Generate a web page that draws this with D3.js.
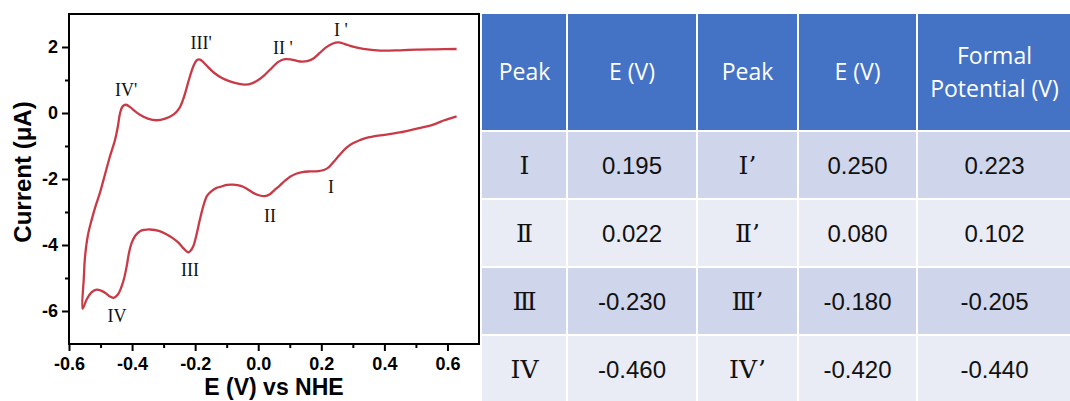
<!DOCTYPE html>
<html>
<head>
<meta charset="utf-8">
<script src="https://cdn.jsdelivr.net/npm/d3@7"></script>
<style>
  html, body { margin: 0; padding: 0; background: #fff; }
  svg { display: block; }
</style>
</head>
<body>
<svg id="chart" width="1070" height="401"></svg>
<script>
// ---- Cyclic voltammogram: cathodic sweep (0.63 V -> -0.56 V) ----
const cathodicE = [0.629, 0.590, 0.555, 0.500, 0.449, 0.400, 0.365, 0.340, 0.323, 0.300, 0.280, 0.259,
  0.240, 0.225, 0.210, 0.190, 0.164, 0.140, 0.120, 0.101, 0.085, 0.069, 0.050, 0.037, 0.020, 0.005,
  -0.016, -0.035, -0.055, -0.079, -0.100, -0.121, -0.132, -0.150, -0.163, -0.175, -0.185, -0.196,
  -0.206, -0.215, -0.222, -0.235, -0.253, -0.270, -0.290, -0.315, -0.343, -0.360, -0.375, -0.390,
  -0.401, -0.410, -0.417, -0.425, -0.433, -0.445, -0.459, -0.472, -0.490, -0.512, -0.528, -0.544, -0.557];
const cathodicI = [-0.10, -0.22, -0.35, -0.48, -0.59, -0.66, -0.71, -0.76, -0.82, -0.92, -1.05, -1.26,
  -1.47, -1.63, -1.72, -1.76, -1.77, -1.79, -1.84, -1.93, -2.05, -2.19, -2.35, -2.46, -2.52, -2.50,
  -2.42, -2.30, -2.21, -2.17, -2.18, -2.24, -2.27, -2.38, -2.52, -2.85, -3.23, -3.70,
  -4.04, -4.18, -4.22, -4.12, -3.93, -3.80, -3.68, -3.57, -3.53, -3.54, -3.58, -3.72,
  -3.93, -4.25, -4.64, -5.00, -5.25, -5.50, -5.60, -5.55, -5.42, -5.35, -5.43, -5.65, -5.93];

// ---- Anodic sweep (-0.56 V -> 0.63 V) ----
const anodicE = [-0.557, -0.553, -0.549, -0.540, -0.528, -0.515, -0.502, -0.487, -0.470, -0.454,
  -0.445, -0.438, -0.430, -0.419, -0.405, -0.390, -0.375, -0.350, -0.322, -0.295, -0.269, -0.250,
  -0.235, -0.220, -0.206, -0.195, -0.185, -0.175, -0.163, -0.140, -0.115, -0.090, -0.060, -0.042,
  -0.020, 0.000, 0.020, 0.037, 0.064, 0.085, 0.105, 0.132, 0.155, 0.175, 0.195, 0.215, 0.235,
  0.254, 0.275, 0.300, 0.333, 0.386, 0.450, 0.502, 0.560, 0.629];
const anodicI = [-5.93, -5.00, -4.34, -3.70, -3.23, -2.80, -2.42, -1.90, -1.31, -0.81,
  -0.40, 0.00, 0.20, 0.25, 0.17, 0.05, -0.05, -0.17, -0.22, -0.17, -0.05, 0.15,
  0.50, 1.00, 1.41, 1.60, 1.62, 1.55, 1.43, 1.22, 1.06, 0.96, 0.88, 0.86,
  0.90, 1.00, 1.15, 1.31, 1.55, 1.63, 1.62, 1.56, 1.57, 1.65, 1.82, 1.99, 2.10,
  2.14, 2.09, 2.01, 1.94, 1.89, 1.90, 1.92, 1.93, 1.94];

// ---- Peak annotations (text anchored at potential / current) ----
const peakNames = ["I '", "II '", "III'", "IV'", "I", "II", "III", "IV"];
const peakLabelE = [0.262, 0.078, -0.181, -0.419, 0.231, 0.037, -0.216, -0.448];
const peakLabelI = [2.34, 1.79, 1.95, 0.52, -2.41, -3.29, -4.95, -6.34];

// ---- Axis ticks ----
const xTicks = [-0.6, -0.4, -0.2, 0.0, 0.2, 0.4, 0.6];
const xMinorTicks = [-0.5, -0.3, -0.1, 0.1, 0.3, 0.5];
const yTicks = [-6, -4, -2, 0, 2];
const yMinorTicks = [-5, -3, -1, 1];

// ---- Peak table ----
const tableHeader = ["Peak", "E (V)", "Peak", "E (V)", "Formal|Potential (V)"];
const redPeaks = ["Ⅰ", "Ⅱ", "Ⅲ", "IV"];
const redPotential = [0.195, 0.022, -0.230, -0.460];
const oxPeaks = ["Ⅰ’", "Ⅱ’", "Ⅲ’", "IV’"];
const oxPotential = [0.250, 0.080, -0.180, -0.420];
const formalPotential = [0.223, 0.102, -0.205, -0.440];

const svg = d3.select("#chart");
const lineColor = "#c93a47";

// ---------- Voltammogram ----------
const plot = { left: 69, right: 479, top: 14, bottom: 344 };
const x = d3.scaleLinear().domain([-0.6, 0.7]).range([plot.left, plot.right]);
const y = d3.scaleLinear().domain([-7, 3]).range([plot.bottom, plot.top]);

const loop = cathodicE.map((e, i) => [e, cathodicI[i]])
  .concat(anodicE.slice(1).map((e, i) => [e, anodicI[i + 1]]));

const line = d3.line()
  .x(d => x(d[0]))
  .y(d => y(d[1]))
  .curve(d3.curveCatmullRom.alpha(0.5));

svg.append("path")
  .datum(loop)
  .attr("fill", "none")
  .attr("stroke", lineColor)
  .attr("stroke-width", 2.3)
  .attr("stroke-linejoin", "round")
  .attr("d", line);

// Frame
svg.append("rect")
  .attr("x", plot.left).attr("y", plot.top)
  .attr("width", plot.right - plot.left).attr("height", plot.bottom - plot.top)
  .attr("fill", "none").attr("stroke", "#000").attr("stroke-width", 2);

const axisFont = "'Liberation Sans', Arial, sans-serif";

const xAxis = svg.append("g").attr("transform", `translate(0,${plot.bottom})`)
  .call(d3.axisBottom(x).tickValues(xTicks).tickSize(7).tickPadding(6)
    .tickFormat(d => d.toFixed(1)));
const xMinor = svg.append("g").attr("transform", `translate(0,${plot.bottom})`)
  .call(d3.axisBottom(x).tickValues(xMinorTicks).tickSize(4).tickFormat(""));
const yAxis = svg.append("g").attr("transform", `translate(${plot.left},0)`)
  .call(d3.axisLeft(y).tickValues(yTicks).tickSize(7).tickPadding(4)
    .tickFormat(d => String(d)));
const yMinor = svg.append("g").attr("transform", `translate(${plot.left},0)`)
  .call(d3.axisLeft(y).tickValues(yMinorTicks).tickSize(4).tickFormat(""));

[xAxis, xMinor, yAxis, yMinor].forEach(g => {
  g.select(".domain").remove();
  g.selectAll(".tick line").attr("stroke", "#000").attr("stroke-width", 2);
  g.selectAll(".tick text")
    .attr("fill", "#000")
    .style("font-family", axisFont)
    .style("font-weight", "bold")
    .style("font-size", "18px");
});

svg.append("text")
  .attr("x", (plot.left + plot.right) / 2).attr("y", 395)
  .attr("text-anchor", "middle")
  .style("font-family", axisFont).style("font-weight", "bold").style("font-size", "23px")
  .text("E (V) vs NHE");

svg.append("text")
  .attr("transform", "translate(31,172) rotate(-90)")
  .attr("text-anchor", "middle")
  .style("font-family", axisFont).style("font-weight", "bold").style("font-size", "24px")
  .text("Current (μA)");

svg.append("g").selectAll("text")
  .data(peakNames)
  .join("text")
  .attr("x", (d, i) => x(peakLabelE[i]))
  .attr("y", (d, i) => y(peakLabelI[i]))
  .attr("text-anchor", "middle")
  .style("font-family", "'Liberation Serif', 'Times New Roman', serif")
  .style("font-size", "18px")
  .attr("fill", "#111")
  .text(d => d);

// ---------- Table ----------
const colEdges = [482, 567, 697, 798, 917, 1072];
const headerTop = 14, headerBottom = 130, rowH = 68;
const gap = 2;
const rowColors = ["#cfd5ea", "#e9ebf5"];
const fmt = v => v.toFixed(3);

const rows = redPeaks.map((p, i) => [p, fmt(redPotential[i]), oxPeaks[i], fmt(oxPotential[i]), fmt(formalPotential[i])]);

const table = svg.append("g");

// header cells
table.selectAll("rect.head")
  .data(tableHeader)
  .join("rect")
  .attr("class", "head")
  .attr("x", (d, i) => colEdges[i] + (i ? gap / 2 : 0))
  .attr("y", headerTop)
  .attr("width", (d, i) => colEdges[i + 1] - colEdges[i] - (i ? gap / 2 : 0) - gap / 2)
  .attr("height", headerBottom - headerTop)
  .attr("fill", "#4472c4");

// header labels, one text element per line
const headFont = "'Open Sans', 'Noto Sans', sans-serif";
tableHeader.forEach((h, i) => {
  const lines = h.split("|");
  const cx = (colEdges[i] + colEdges[i + 1]) / 2;
  const cy = (headerTop + headerBottom) / 2;
  lines.forEach((ln, k) => {
    table.append("text")
      .attr("x", cx)
      .attr("y", cy + (k - (lines.length - 1) / 2) * 33)
      .attr("dy", "0.36em")
      .attr("text-anchor", "middle")
      .attr("fill", "#fff")
      .style("font-family", headFont)
      .style("font-weight", 500)
      .style("font-size", "23px")
      .text(ln);
  });
});

rows.forEach((r, ri) => {
  const top = headerBottom + gap + ri * rowH;
  r.forEach((cell, ci) => {
    table.append("rect")
      .attr("x", colEdges[ci] + (ci ? gap / 2 : 0))
      .attr("y", top)
      .attr("width", colEdges[ci + 1] - colEdges[ci] - (ci ? gap / 2 : 0) - gap / 2)
      .attr("height", rowH - gap)
      .attr("fill", rowColors[ri % 2]);
    const isPeak = ci === 0 || ci === 2;
    table.append("text")
      .attr("x", (colEdges[ci] + colEdges[ci + 1]) / 2)
      .attr("y", top + (rowH - gap) / 2)
      .attr("dy", "0.36em")
      .attr("text-anchor", "middle")
      .attr("fill", "#111")
      .style("font-family", isPeak ? "'DejaVu Serif', 'Liberation Serif', serif" : "'Liberation Sans', Arial, sans-serif")
      .style("font-size", isPeak ? "25px" : "24px")
      .text(cell);
  });
});
</script>
</body>
</html>
